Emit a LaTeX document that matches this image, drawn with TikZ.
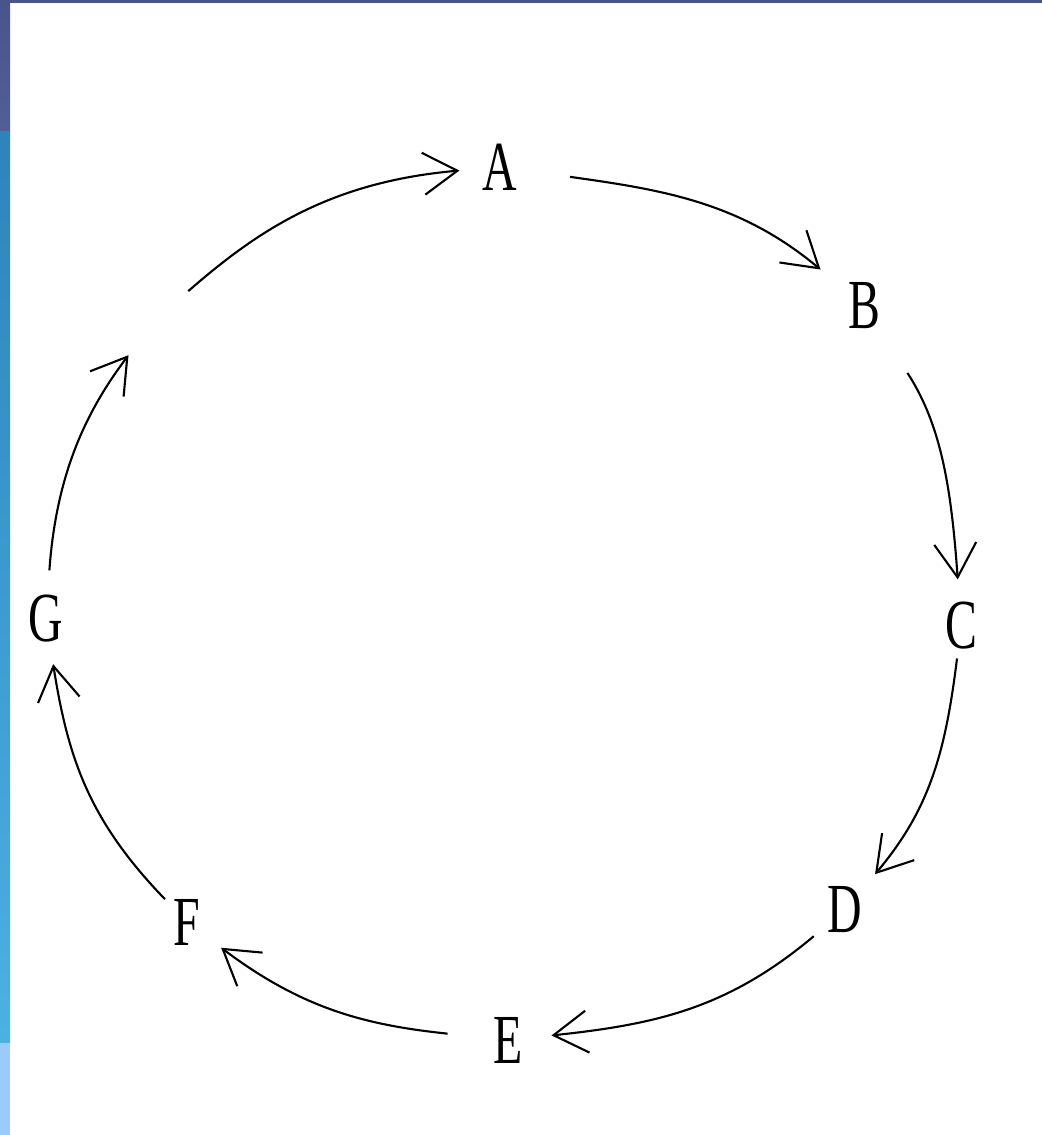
\documentclass[tikz,border=0pt]{standalone}
\usepackage{fontspec}
\usepackage{tikz}
\usetikzlibrary{arrows.meta}
\newfontfamily\lttrfont[FakeStretch=0.68]{Liberation Serif}
\definecolor{slatebar}{HTML}{48548A}
\definecolor{slatelow}{HTML}{525F97}
\definecolor{bluetop}{HTML}{2E84BA}
\definecolor{bluelow}{HTML}{4AB2E2}
\definecolor{bluepale}{HTML}{9ACBFA}

\begin{document}
\begin{tikzpicture}[x=0.01cm, y=-0.01cm,
	letter/.style={circle, inner sep=0pt, minimum size=8mm, font=\lttrfont\fontsize{20}{20}\selectfont},
	cyc/.style={line width=0.6pt, -{Straight Barb[length=3.4mm, width=4.2mm]}}]
	% Frame and side bar:
	\useasboundingbox (0,0) rectangle (1042,1135);
	\shade[top color=slatebar, bottom color=slatelow] (0,0) rectangle (10,131);
	\shade[top color=bluetop, bottom color=bluelow] (0,131) rectangle (10,1043);
	\fill[bluepale] (0,1043) rectangle (10,1135);
	\fill[slatebar] (0,0) rectangle (1042,3);
	% Letters:
	\node[letter] (A) at (500,167) {A};
	\node[letter] (B) at (864,306) {B};
	\node[letter] (C) at (961,626) {C};
	\node[letter] (D) at (845,910) {D};
	\node[letter] (E) at (508,1040) {E};
	\node[letter] (F) at (187,922) {F};
	\node[letter] (G) at (46,619) {G};
	\coordinate (H) at (155,320);
	% Cycle arrows:
	\draw[cyc, shorten <=3mm, shorten >=1.6mm] (A) to[out=-8, in=140] (B);
	\draw[cyc, shorten <=3.9mm, shorten >=0.6mm] (B) to[out=-57, in=94] (C);
	\draw[cyc, shorten <=-0.8mm, shorten >=0.6mm] (C) to[out=-97, in=50] (D);
	\draw[cyc, shorten >=0.3mm] (D) to[out=-140, in=6] (E);
	\draw[cyc, shorten <=2mm, shorten >=0.2mm] (E) to[out=174, in=-37] (F);
	\draw[cyc, shorten <=-0.9mm, shorten >=0.5mm] (F) to[out=134, in=-81] (G);
	\draw[cyc, shorten <=0.8mm, shorten >=4.4mm] (G) to[out=86, in=-127] (H);
	\draw[cyc, shorten <=4.4mm] (H) to[out=41, in=-175] (A);
\end{tikzpicture}
\end{document}
